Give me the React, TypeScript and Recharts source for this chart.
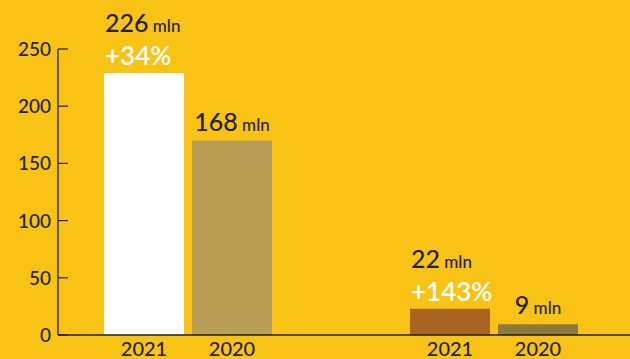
import React from 'react';
import { BarChart, Bar, XAxis, YAxis, LabelList, Cell } from 'recharts';

const groups = ['A', 'B'];
const values2021 = [229, 23];
const values2020 = [170, 9.5];
const amounts2021 = ['226', '22'];
const amounts2020 = ['168', '9'];
const changes2021 = ['+34%', '+143%'];
const yTicks = [0, 50, 100, 150, 200, 250];

const colors2021 = ['#FFFFFF', '#A86522'];
const colors2020 = ['#B89E55', '#8A7A40'];

const BG = '#F9C315';
const INK = '#231F1A';
const FONT = 'Lato, "Open Sans", sans-serif';

const data = groups.map((g, i) => ({
    group: g,
    y2021: values2021[i],
    y2020: values2020[i],
}));

const YTick = ({ x, y, payload }: any) => (
    <g>
        <line x1={x + 7} x2={x + 17} y1={y} y2={y} stroke={INK} strokeWidth={1.2} />
        <text x={x} y={y} dy={7} textAnchor="end" fill={INK} fontSize={19} fontWeight={500} fontFamily={FONT}>
            {payload.value}
        </text>
    </g>
);

const makeLabel = (year: string, amounts: string[], changes?: string[]) => (props: any) => {
    const { x, y, width, height, index } = props;
    const cx = x + width / 2;
    const bottom = y + height;
    return (
        <g fontFamily={FONT} fontWeight={500}>
            {changes ? (
                <>
                    <text x={x + 1} y={y - 41} fill={INK} textAnchor="start">
                        <tspan fontSize={25}>{amounts[index]}</tspan>
                        <tspan fontSize={17}> mln</tspan>
                    </text>
                    <text x={x + 1} y={y - 8} fill="#FFFFFF" fontSize={26} fontWeight={600} textAnchor="start">
                        {changes[index]}
                    </text>
                </>
            ) : (
                <text x={cx} y={y - 10} fill={INK} textAnchor="middle">
                    <tspan fontSize={25}>{amounts[index]}</tspan>
                    <tspan fontSize={17}> mln</tspan>
                </text>
            )}
            <text x={cx} y={bottom + 21} fill={INK} fontSize={20} textAnchor="middle">
                {year}
            </text>
        </g>
    );
};

export default function App() {
    return (
        <div
            style={{
                position: 'absolute',
                left: 0,
                top: 0,
                width: 630,
                height: 359,
                overflow: 'hidden',
                background: BG,
            }}
        >
            <BarChart
                width={660}
                height={359}
                data={data}
                margin={{ top: 49, right: 13, left: 0, bottom: 0 }}
                barSize={80}
                barGap={8}
            >
                <XAxis
                    dataKey="group"
                    tick={false}
                    tickLine={false}
                    height={24}
                    padding={{ left: -23, right: 0 }}
                    axisLine={{ stroke: INK, strokeWidth: 1.3 }}
                />
                <YAxis
                    width={58}
                    domain={[0, 250]}
                    ticks={yTicks}
                    interval={0}
                    tickSize={0}
                    tickMargin={7}
                    tickLine={false}
                    tick={<YTick />}
                    axisLine={{ stroke: INK, strokeWidth: 1.3 }}
                />
                <Bar dataKey="y2021" isAnimationActive={false}>
                    {data.map((d, i) => (
                        <Cell key={d.group} fill={colors2021[i]} />
                    ))}
                    <LabelList content={makeLabel('2021', amounts2021, changes2021)} />
                </Bar>
                <Bar dataKey="y2020" isAnimationActive={false}>
                    {data.map((d, i) => (
                        <Cell key={d.group} fill={colors2020[i]} />
                    ))}
                    <LabelList content={makeLabel('2020', amounts2020)} />
                </Bar>
            </BarChart>
        </div>
    );
}
